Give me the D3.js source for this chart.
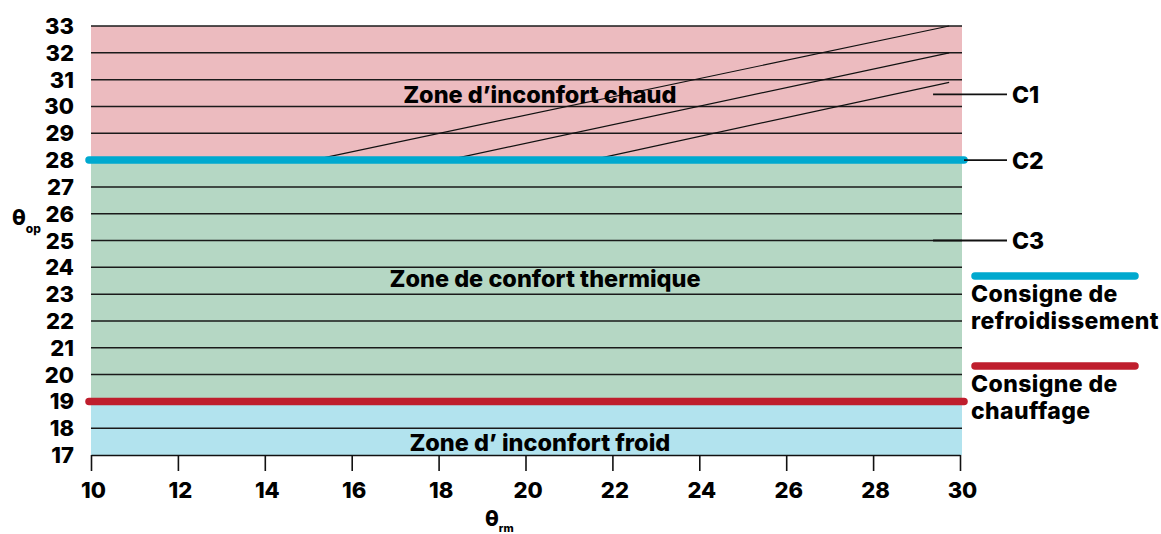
<!DOCTYPE html>
<html>
<head>
<meta charset="utf-8">
<script src="https://cdn.jsdelivr.net/npm/d3@7"></script>
<style>
  body { margin: 0; background: #fff; }
  svg { display: block; }
  text { font-family: Inter, Lato, sans-serif; font-weight: 800; fill: #000; }
</style>
</head>
<body>
<svg id="chart" width="1161" height="534"></svg>
<script>
// valeurs
const xTicks = [10, 12, 14, 16, 18, 20, 22, 24, 26, 28, 30]
const yTicks = [17, 18, 19, 20, 21, 22, 23, 24, 25, 26, 27, 28, 29, 30, 31, 32, 33]
const zoneNames = ['Zone d’ inconfort froid', 'Zone de confort thermique', 'Zone d’inconfort chaud']
const zoneBounds = [[17, 19], [19, 28], [28, 33]]
const coolingSetpoint = 28
const heatingSetpoint = 19
const catNames = ['C1', 'C2', 'C3']
// limites hautes des catégories (θrm, θop)
const c1Line = [[15.1, 28], [29.75, 33]]
const c2Line = [[18.2, 28], [29.75, 32]]
const c3Line = [[21.5, 28], [29.75, 30.9]]
const catLeaderY = [30.45, 28, 25]
const legendNames = [['Consigne de', 'refroidissement'], ['Consigne de', 'chauffage']]

const zoneColors = ['#b2e3ee', '#b5d7c4', '#ecbbbf']
const blue = '#00a9cf', red = '#bf1e2d'
const font = 'Inter, Lato, sans-serif'

const svg = d3.select('#chart')
const x = d3.scaleLinear().domain([10, 30]).range([91, 960])
const y = d3.scaleLinear().domain([17, 33]).range([455, 26])

const g = svg.append('g')

// zones
g.selectAll('rect.zone').data(zoneBounds)
  .enter().append('rect')
    .attr('class', 'zone')
    .attr('x', x(10))
    .attr('width', x(30) - x(10) + 2)
    .attr('y', d => y(d[1]))
    .attr('height', d => y(d[0]) - y(d[1]))
    .attr('fill', (d, i) => zoneColors[i])

// lignes horizontales
g.selectAll('line.grid').data(yTicks.filter(d => d > 17))
  .enter().append('line')
    .attr('x1', x(10)).attr('x2', x(30) + 2)
    .attr('y1', d => y(d)).attr('y2', d => y(d))
    .attr('stroke', '#1a1a1a').attr('stroke-width', 1.5)

// limites des catégories
const line = d3.line().x(d => x(d[0])).y(d => y(d[1]))
g.selectAll('path.cat').data([c1Line, c2Line, c3Line])
  .enter().append('path')
    .attr('d', line)
    .attr('fill', 'none')
    .attr('stroke', '#111').attr('stroke-width', 1.2)

// consignes
g.append('line')
  .attr('x1', x(10) - 2).attr('x2', x(30) + 4)
  .attr('y1', y(coolingSetpoint)).attr('y2', y(coolingSetpoint))
  .attr('stroke', blue).attr('stroke-width', 7.5).attr('stroke-linecap', 'round')
g.append('line')
  .attr('x1', x(10) - 2).attr('x2', x(30) + 4)
  .attr('y1', y(heatingSetpoint)).attr('y2', y(heatingSetpoint))
  .attr('stroke', red).attr('stroke-width', 7.5).attr('stroke-linecap', 'round')

// axe x
const xAxis = g.append('g')
  .attr('transform', `translate(0,${y(17)})`)
  .call(d3.axisBottom(x).tickValues(xTicks).tickSize(16).tickPadding(11).tickSizeOuter(0))
xAxis.select('.domain').attr('stroke', '#111').attr('stroke-width', 1.6)
xAxis.selectAll('.tick line').attr('stroke', '#111').attr('stroke-width', 1.6)
xAxis.selectAll('.tick text')
  .attr('font-size', 22).attr('font-family', font).attr('font-weight', 800)
  .attr('dx', 2)

// axe y (libellés seuls)
g.selectAll('text.ytick').data(yTicks)
  .enter().append('text')
    .attr('x', 74).attr('y', d => y(d) + 8)
    .attr('text-anchor', 'end')
    .attr('font-size', 22)
    .text(d => d)

// titres des axes
const yt = svg.append('text').attr('x', 12).attr('y', 225).attr('font-size', 22)
yt.append('tspan').text('θ')
yt.append('tspan').attr('dy', 8).attr('font-size', 12).text('op')
const xt = svg.append('text').attr('x', 485).attr('y', 526).attr('font-size', 22)
xt.append('tspan').text('θ')
xt.append('tspan').attr('dy', 6).attr('font-size', 11).text('rm')

// noms des zones
const zoneLabelX = [20.33, 20.45, 20.33]
const zoneLabelY = [17.15, 23.26, 30.13]
g.selectAll('text.zone').data(zoneNames)
  .enter().append('text')
    .attr('x', (d, i) => x(zoneLabelX[i])).attr('y', (d, i) => y(zoneLabelY[i]))
    .attr('text-anchor', 'middle')
    .attr('font-size', 23.5)
    .text(d => d)

// catégories C1..C3
catNames.forEach((name, i) => {
  const yy = y(catLeaderY[i])
  g.append('line')
    .attr('x1', i === 1 ? x(30) + 4 : x(29.38)).attr('x2', 1007)
    .attr('y1', yy).attr('y2', yy)
    .attr('stroke', '#111').attr('stroke-width', 1.8)
  g.append('text')
    .attr('x', 1012).attr('y', yy + 8.5)
    .attr('font-size', 23)
    .text(name)
})

// légende
const legendColors = [blue, red]
const legendY = [276, 366]
legendNames.forEach((lines, i) => {
  g.append('line')
    .attr('x1', 975).attr('x2', 1135)
    .attr('y1', legendY[i]).attr('y2', legendY[i])
    .attr('stroke', legendColors[i]).attr('stroke-width', 7.5).attr('stroke-linecap', 'round')
  const t = g.append('text').attr('x', 971).attr('y', legendY[i] + 26)
    .attr('font-size', 23).attr('letter-spacing', 0.4)
  lines.forEach((l, j) => t.append('tspan').attr('x', 971).attr('dy', j ? 26.5 : 0).text(l))
})
</script>
</body>
</html>
